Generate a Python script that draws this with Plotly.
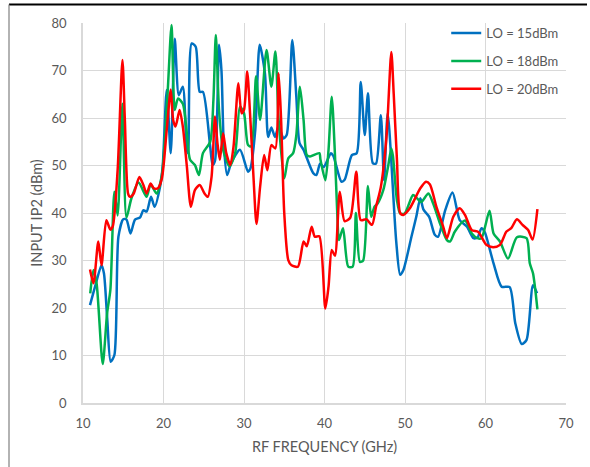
import plotly.graph_objects as go

# LO = 15 dBm
freq_15 = [10.87, 11.5, 12.3, 12.6, 13.0, 13.44, 13.9, 14.4, 15.0, 15.4, 15.9, 16.46, 17.1, 17.5, 17.9,
           18.45, 18.9, 19.57, 19.9, 20.4, 20.9, 21.4, 21.9, 22.4, 22.9, 23.05, 23.5, 24.0, 24.5, 24.9,
           25.8, 26.1, 26.4, 26.9, 27.2, 27.5, 27.9, 28.4, 29.5, 30.5, 30.8, 31.4, 31.95, 32.6, 33.0,
           33.4, 33.85, 34.3, 34.9, 35.3, 36.0, 36.5, 36.9, 37.4, 38.6, 39.0, 39.45, 39.9, 40.8, 41.1,
           42.1, 42.5, 43.4, 44.0, 44.5, 45.0, 45.4, 46.0, 46.4, 47.0, 47.4, 47.85, 48.9, 49.4, 49.8,
           50.8, 51.4, 51.9, 52.3, 53.0, 53.7, 54.1, 55.0, 55.9, 56.8, 57.7, 58.5, 59.0, 59.5, 59.9,
           61.0, 62.0, 63.0, 63.7, 64.5, 65.1, 65.9, 66.4]
ip2_15 = [20.6, 24.5, 29.0, 27.3, 18.0, 8.7, 10.1, 35.0, 38.7, 38.6, 35.7, 38.6, 39.1, 40.6, 40.3,
          43.4, 41.3, 45.5, 49.8, 65.9, 52.6, 76.7, 64.8, 66.6, 53.3, 52.6, 75.7, 75.0, 65.5, 65.5,
          54.0, 50.1, 51.0, 75.4, 70.0, 54.0, 48.0, 50.5, 53.3, 48.7, 49.4, 57.5, 75.4, 69.4, 56.0,
          58.0, 56.0, 58.3, 55.7, 56.4, 76.4, 64.5, 54.7, 53.3, 48.4, 48.0, 50.4, 49.7, 52.6, 52.0,
          46.6, 47.0, 52.2, 52.6, 67.6, 56.4, 65.2, 50.5, 50.4, 60.6, 46.9, 61.0, 34.2, 27.0, 28.0,
          35.0, 39.2, 43.1, 40.7, 39.2, 35.4, 35.0, 40.6, 44.3, 38.5, 37.1, 34.7, 34.8, 36.8, 36.0,
          29.4, 24.5, 24.4, 16.8, 12.4, 13.3, 24.8, 23.1]

# LO = 18 dBm
freq_18 = [10.9, 11.3, 11.7, 12.45, 13.0, 13.4, 13.9, 14.3, 14.9, 15.4, 16.0, 16.9, 17.9, 18.4, 19.15,
           19.8, 20.5, 21.0, 21.4, 21.8, 22.4, 22.9, 23.3, 23.9, 24.4, 24.9, 25.8, 26.2, 26.5, 26.9,
           27.4, 28.2, 28.9, 29.5, 30.0, 30.5, 30.9, 31.5, 32.0, 32.8, 33.4, 33.9, 34.3, 35.0, 35.5,
           36.1, 36.5, 36.95, 37.4, 37.8, 38.2, 39.35, 39.5, 40.1, 40.5, 40.9, 41.3, 41.6, 41.8, 42.3,
           42.95, 43.5, 43.9, 44.4, 44.8, 45.4, 45.8, 46.2, 46.6, 47.3, 47.9, 48.3, 48.5, 49.0, 49.4,
           49.95, 51.0, 51.4, 52.0, 52.9, 53.5, 54.35, 55.2, 55.6, 56.2, 57.45, 58.3, 59.0, 59.5, 60.5,
           61.0, 61.8, 62.8, 63.9, 65.1, 65.5, 65.9, 66.45]
ip2_18 = [23.1, 28.0, 25.0, 8.2, 19.0, 23.8, 44.5, 39.5, 63.0, 39.0, 43.0, 46.4, 43.4, 46.0, 44.1,
          48.0, 65.0, 79.6, 61.7, 64.1, 63.0, 56.8, 51.2, 50.1, 48.0, 52.6, 55.0, 63.8, 77.5, 61.6,
          53.3, 49.8, 52.6, 62.4, 61.0, 54.3, 54.0, 68.8, 59.6, 74.3, 66.6, 74.0, 59.6, 47.3, 51.5,
          52.6, 56.4, 66.6, 59.6, 52.2, 51.9, 52.6, 51.2, 46.9, 53.3, 64.5, 52.2, 39.2, 34.3, 36.8,
          28.7, 28.7, 40.0, 29.7, 30.0, 45.7, 39.2, 41.3, 42.0, 44.8, 49.8, 53.6, 52.0, 42.7, 39.9,
          39.9, 43.8, 43.3, 42.3, 44.1, 42.0, 37.8, 34.3, 34.0, 36.1, 38.4, 35.7, 34.7, 34.7, 40.5,
          35.7, 34.0, 30.4, 34.9, 34.7, 29.4, 27.3, 19.7]

# LO = 20 dBm
freq_20 = [10.87, 11.3, 11.9, 12.3, 12.9, 13.4, 13.7, 14.3, 14.9, 15.2, 15.6, 15.85, 16.3, 17.0, 17.5,
           17.9, 18.4, 18.8, 19.3, 19.8, 20.4, 20.9, 21.2, 21.5, 22.0, 22.4, 22.9, 23.4, 23.9, 24.5,
           25.1, 25.5, 25.97, 26.4, 26.7, 27.0, 27.4, 27.8, 28.3, 28.7, 29.3, 29.7, 30.0, 30.4, 30.75,
           31.2, 31.55, 32.0, 32.5, 32.9, 33.4, 33.9, 34.3, 34.6, 35.0, 35.5, 35.9, 36.7, 37.4, 37.8,
           38.4, 38.8, 39.35, 40.1, 40.5, 40.9, 41.3, 41.9, 42.5, 43.2, 43.95, 44.5, 45.2, 45.9, 46.4,
           47.0, 47.7, 48.3, 48.6, 49.0, 49.4, 49.8, 50.6, 51.9, 52.6, 53.1, 53.9, 54.75, 55.2, 56.0,
           56.8, 57.45, 58.3, 59.1, 60.1, 60.95, 61.8, 62.6, 63.2, 63.9, 64.6, 65.3, 65.85, 66.45]
ip2_20 = [28.1, 25.2, 34.0, 29.0, 38.5, 36.5, 37.2, 49.0, 72.2, 59.6, 44.1, 43.4, 44.1, 47.6, 45.9,
          44.1, 46.2, 45.2, 45.2, 47.3, 57.5, 66.0, 59.6, 58.2, 61.7, 58.2, 49.8, 41.3, 44.8, 45.9,
          44.1, 43.4, 47.6, 60.3, 54.7, 51.2, 56.8, 52.6, 50.1, 54.0, 67.3, 61.0, 61.7, 69.8, 61.0,
          46.9, 37.7, 45.5, 52.2, 49.0, 54.3, 53.6, 69.4, 60.0, 40.0, 30.1, 29.0, 28.7, 34.0, 33.0,
          37.1, 35.0, 35.1, 19.9, 24.5, 32.2, 31.0, 44.5, 38.3, 39.0, 48.7, 38.5, 38.7, 37.5, 41.3,
          45.5, 56.0, 73.9, 65.0, 51.2, 40.0, 39.6, 41.0, 45.2, 46.6, 46.0, 41.3, 37.1, 34.7, 39.2,
          41.0, 39.6, 36.4, 36.0, 33.3, 32.8, 33.3, 36.1, 36.8, 38.7, 37.5, 36.4, 34.4, 40.8]

series_names = ["LO = 15dBm", "LO = 18dBm", "LO = 20dBm"]
series_colors = ["#0070C0", "#00B050", "#FF0000"]
x_ticks = [10, 20, 30, 40, 50, 60, 70]
y_ticks = [0, 10, 20, 30, 40, 50, 60, 70, 80]

FONT = "Lato"
GRAY = "#595959"

fig = go.Figure()
for name, color, xs, ys in zip(series_names, series_colors,
                               [freq_15, freq_18, freq_20], [ip2_15, ip2_18, ip2_20]):
    fig.add_trace(go.Scatter(x=xs, y=ys, mode="lines", name=name, legendgroup=name,
                             line=dict(color=color, width=2.5, shape="spline", smoothing=0.7)))

fig.update_layout(
    width=590, height=467,
    margin=dict(l=83, r=24, t=23, b=64),
    paper_bgcolor="white", plot_bgcolor="white",
    font=dict(family=FONT, size=13, color=GRAY),
    showlegend=True,
    legend=dict(x=0.752, y=1.013, xanchor="left", yanchor="top", bgcolor="rgba(0,0,0,0)",
                font=dict(family=FONT, size=13, color=GRAY), traceorder="grouped",
                tracegroupgap=8, itemwidth=30),
    xaxis=dict(range=[10, 70], tickvals=x_ticks, showgrid=True, gridcolor="#d9d9d9", gridwidth=1,
               showline=True, linecolor="#d9d9d9", linewidth=1.5, zeroline=False,
               ticks="", ticklabelstandoff=8,
               title=dict(text="RF FREQUENCY (GHz)", standoff=12,
                          font=dict(family=FONT, size=14.5, color=GRAY))),
    yaxis=dict(range=[0, 80], tickvals=y_ticks, showgrid=True, gridcolor="#d9d9d9", gridwidth=1,
               showline=True, linecolor="#d9d9d9", linewidth=1.5, zeroline=False,
               ticks="", ticklabelstandoff=12,
               title=dict(text="INPUT IP2 (dBm)", standoff=5,
                          font=dict(family=FONT, size=14.5, color=GRAY))),
    shapes=[
        dict(type="line", xref="paper", yref="paper", x0=-0.1532, x1=1.0435, y0=1.0487, y1=1.0487,
             line=dict(color="black", width=2)),
        dict(type="line", xref="paper", yref="paper", x0=-0.1532, x1=-0.1532, y0=1.0487, y1=-0.18,
             line=dict(color="#808080", width=1.2)),
    ],
)

fig.write_html("out.html")
